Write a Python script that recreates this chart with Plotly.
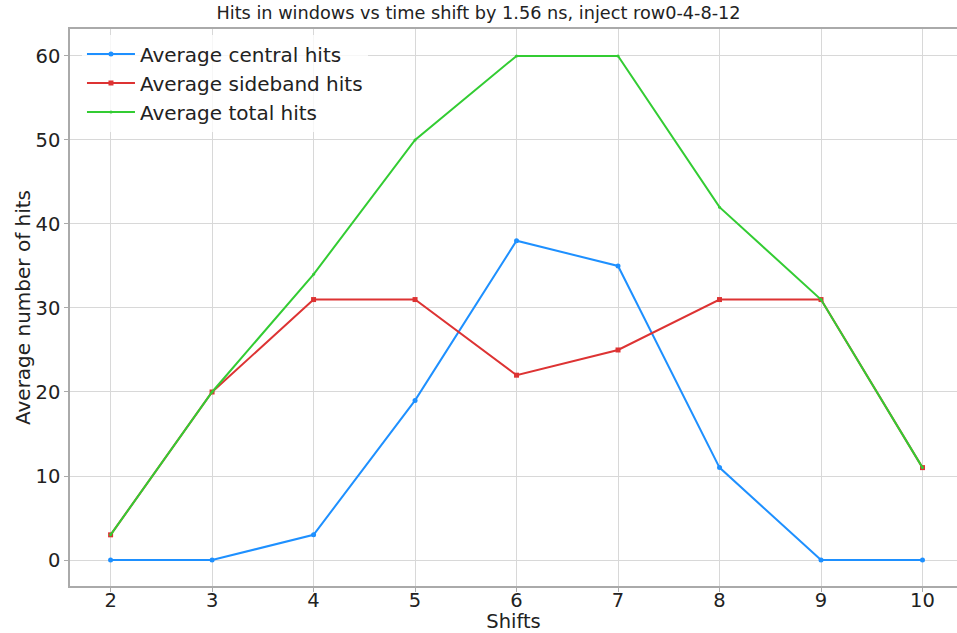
import plotly.graph_objects as go

shifts = [2, 3, 4, 5, 6, 7, 8, 9, 10]
central = [0, 0, 3, 19, 38, 35, 11, 0, 0]
sideband = [3, 20, 31, 31, 22, 25, 31, 31, 11]
total = [3, 20, 34, 50, 60, 60, 42, 31, 11]

FONT = "DejaVu Sans"
fig = go.Figure()
fig.add_trace(go.Scatter(x=shifts, y=central, mode="lines+markers", name="Average central hits",
                         line=dict(color="#1E90FF", width=2), marker=dict(symbol="circle", size=5),
                         legendgroup="a"))
fig.add_trace(go.Scatter(x=shifts, y=sideband, mode="lines+markers", name="Average sideband hits",
                         line=dict(color="#DD3333", width=2), marker=dict(symbol="square", size=5),
                         legendgroup="b"))
fig.add_trace(go.Scatter(x=shifts, y=total, mode="lines+markers", name="Average total hits",
                         line=dict(color="#33CC33", width=2), marker=dict(symbol="circle", size=3),
                         legendgroup="c"))

fig.update_layout(
    width=957, height=633,
    margin=dict(l=70, r=0, t=29, b=47),
    plot_bgcolor="white", paper_bgcolor="white",
    font=dict(family=FONT, color="#222222", size=19),
    title=dict(text="Hits in windows vs time shift by 1.56 ns, inject row0-4-8-12",
               x=0.5, xanchor="center", y=1, yanchor="top", yref="container", pad=dict(t=7),
               font=dict(family=FONT, size=17.7, color="#222222")),
    showlegend=True,
    legend=dict(x=0.0135, y=0.99, xanchor="left", yanchor="top", bgcolor="rgba(255,255,255,0.8)",
                font=dict(family=FONT, size=20, color="#222222"), tracegroupgap=0,
                itemwidth=48),
    xaxis=dict(range=[1.6, 10.34], tickvals=shifts, showgrid=True, gridcolor="#d8d8d8", gridwidth=1,
               showline=True, linecolor="#aaaaaa", linewidth=1.5, mirror=True,
               ticks="outside", ticklen=4, tickcolor="#aaaaaa", ticklabelstandoff=-8,
               tickfont=dict(family=FONT, size=19.5),
               title=dict(text="Shifts", font=dict(family=FONT, size=19.5), standoff=2),
               zeroline=False),
    yaxis=dict(range=[-3.09, 63.2], tickvals=[0, 10, 20, 30, 40, 50, 60], showgrid=True,
               gridcolor="#d8d8d8", gridwidth=1,
               showline=True, linecolor="#aaaaaa", linewidth=1.5,
               ticks="outside", ticklen=4, tickcolor="#aaaaaa",
               tickfont=dict(family=FONT, size=19.5),
               title=dict(text="Average number of hits", font=dict(family=FONT, size=20), standoff=0),
               zeroline=False),
)

fig.write_html("out.html")
